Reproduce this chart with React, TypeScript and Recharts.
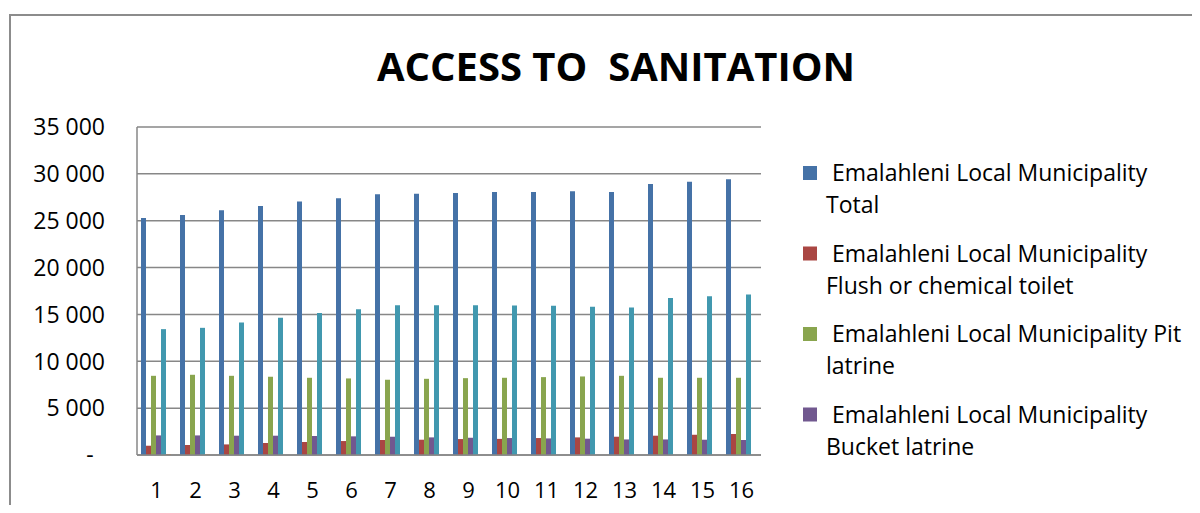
import { BarChart, Bar, XAxis, YAxis, CartesianGrid } from "recharts";

// Household counts per period, Emalahleni Local Municipality
const periods = ["1", "2", "3", "4", "5", "6", "7", "8", "9", "10", "11", "12", "13", "14", "15", "16"];
const total = [25300, 25620, 26120, 26580, 27040, 27400, 27820, 27890, 27960, 28070, 28070, 28140, 28070, 28920, 29170, 29420];
const flush = [990, 1070, 1130, 1280, 1390, 1490, 1600, 1630, 1700, 1720, 1810, 1880, 1950, 2060, 2160, 2240];
const pit = [8450, 8560, 8450, 8350, 8240, 8170, 8030, 8130, 8200, 8240, 8310, 8380, 8450, 8240, 8240, 8240];
const bucket = [2090, 2090, 2060, 2060, 2030, 1990, 1950, 1880, 1840, 1810, 1770, 1740, 1660, 1660, 1630, 1600];
const none = [13430, 13570, 14140, 14640, 15140, 15560, 15990, 15990, 15990, 15950, 15920, 15810, 15740, 16740, 16950, 17120];
const other = [90, 70, 0, 0, 0, 0, 0, 0, 0, 0, 0, 0, 0, 0, 0, 0];
const yTicks = [0, 5000, 10000, 15000, 20000, 25000, 30000, 35000];

const SERIES = [
  { key: "total", lines: ["Emalahleni Local Municipality", "Total"], color: "#4572A7", values: total },
  { key: "flush", lines: ["Emalahleni Local Municipality", "Flush or chemical toilet"], color: "#AA4643", values: flush },
  { key: "pit", lines: ["Emalahleni Local Municipality Pit", "latrine"], color: "#89A54E", values: pit },
  { key: "bucket", lines: ["Emalahleni Local Municipality", "Bucket latrine"], color: "#71588F", values: bucket },
  { key: "none", lines: ["Emalahleni Local Municipality", "None"], color: "#4198AF", values: none },
  { key: "other", lines: ["Emalahleni Local Municipality", "Other"], color: "#DB843D", values: other },
];

// the legend box only has room for the first four entries
const LEGEND = SERIES.slice(0, 4);

const data = periods.map((p, i) => {
  const row: Record<string, string | number> = { period: p };
  SERIES.forEach(s => { row[s.key] = s.values[i]; });
  return row;
});

const FONT = "'Open Sans', sans-serif";
const GRID = "#878787";

const fmt = (v: number) => (v === 0 ? "-" : v.toLocaleString("en-US").replace(/,/g, " "));

function YTick({ x, y, payload }: any) {
  const zero = payload.value === 0;
  return (
    <text x={zero ? x - 47 : x - 32} y={y} dy="0.36em" textAnchor={zero ? "middle" : "end"}
      fontFamily={FONT} fontSize={23} fill="#000">
      {fmt(payload.value)}
    </text>
  );
}

function XTick({ x, y, payload }: any) {
  return (
    <text x={x} y={y + 43} textAnchor="middle" fontFamily={FONT} fontSize={22} fill="#000">
      {payload.value}
    </text>
  );
}

export default function App() {
  return (
    <div style={{ position: "relative", width: 1192, height: 505, marginRight: -8, marginBottom: -8, overflow: "hidden", background: "#fff" }}>
      <div style={{ position: "absolute", left: 1, top: 6, width: 1300, height: 700, border: `2px solid #8c8c8c`, boxSizing: "border-box" }} />
      <div style={{ position: "absolute", left: 0, top: 0 }}>
        <BarChart width={1192} height={505} data={data} barCategoryGap={4} barGap={0}
          margin={{ top: 119, right: 439, bottom: 18, left: 29 }}>
          <CartesianGrid vertical={false} stroke={GRID} strokeWidth={1.5} />
          <XAxis dataKey="period" height={40} tickLine={false} tickSize={0} tickMargin={0}
            axisLine={{ stroke: GRID, strokeWidth: 1.5 }} tick={<XTick />} interval={0} />
          <YAxis width={100} domain={[0, 35000]} ticks={yTicks} tickLine={false} tickSize={0} tickMargin={0}
            axisLine={{ stroke: GRID, strokeWidth: 1.5 }} tick={<YTick />} interval={0} />
          {SERIES.map(s => (
            <Bar key={s.key} dataKey={s.key} name={s.lines.join(" ")} fill={s.color} isAnimationActive={false} />
          ))}
        </BarChart>
      </div>
      <svg width={1192} height={505} style={{ position: "absolute", left: 0, top: 0, pointerEvents: "none" }}>
        <text x={608} y={73} textAnchor="middle" fontFamily={FONT} fontWeight={700} fontSize={40}
          fill="#000" style={{ whiteSpace: "pre" }}>
          {"ACCESS TO  SANITATION"}
        </text>
        {LEGEND.map((s, i) => {
          const top = 158 + i * 80.5;
          return (
            <g key={s.key}>
              <rect x={795} y={top} width={14} height={14} fill={s.color} />
              <text x={824} y={top + 15} fontFamily={FONT} fontSize={23} fill="#000">{s.lines[0]}</text>
              <text x={818} y={top + 47} fontFamily={FONT} fontSize={23} fill="#000">{s.lines[1]}</text>
            </g>
          );
        })}
      </svg>
    </div>
  );
}
